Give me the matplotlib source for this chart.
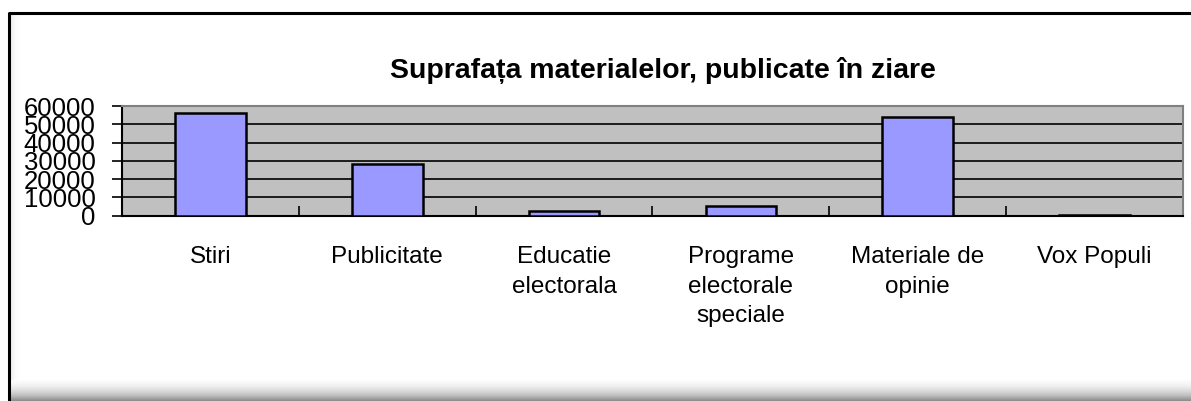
import numpy as np
import matplotlib.pyplot as plt

categories = ["Stiri", "Publicitate", "Educatie\nelectorala",
              "Programe\nelectorale\nspeciale", "Materiale de\nopinie", "Vox Populi"]
values = [56200, 28000, 2700, 5400, 54000, 600]
yticks = [0, 10000, 20000, 30000, 40000, 50000, 60000]
title = "Suprafața materialelor, publicate în ziare"

plt.rcParams['font.family'] = ['Liberation Sans', 'DejaVu Sans']

W, H = 1191, 401
fig = plt.figure(figsize=(W / 100, H / 100), dpi=100)

# frame and shadow behind everything
bg = fig.add_axes([0, 0, 1, 1], zorder=-5)
shade = np.linspace(0, 1, 64).reshape(-1, 1) ** 1.3
bg.imshow(shade, extent=[9, W, H, 380], cmap='Greys', vmin=-0.05, vmax=1.9,
          aspect='auto', interpolation='bilinear')
side = np.linspace(1, 0, 64).reshape(1, -1) ** 2
bg.imshow(side, extent=[10, 20, 380, 14], cmap='Greys', vmin=-0.05, vmax=6,
          aspect='auto', interpolation='bilinear')
bg.plot([9, 9, W], [H, 12.5, 12.5], color='black', lw=2.2, solid_capstyle='butt')
bg.set_xlim(0, W)
bg.set_ylim(H, 0)
bg.axis('off')

ax = fig.add_axes([122 / W, 1 - 215.6 / H, (1183 - 122) / W, (215.6 - 106) / H])
ax.set_facecolor('#C0C0C0')
x = np.arange(len(categories))
ax.bar(x, values, width=0.4, color='#9999FF', edgecolor='black', linewidth=1.8, zorder=3)

ax.set_xlim(-0.5, len(categories) - 0.5)
ax.set_ylim(0, 60000)
ax.set_yticks(yticks)
ax.set_yticklabels([str(v) for v in yticks], fontsize=18.5)
ax.yaxis.grid(True, color='black', lw=1.2, zorder=1)
ax.set_axisbelow(True)

ax.set_xticks(x)
ax.set_xticklabels(categories, fontsize=17.5, linespacing=1.45)
ax.set_xticks(np.arange(0.5, len(categories) - 0.5 + 0.01, 1.0), minor=True)
ax.tick_params(axis='x', which='major', length=0, pad=22)
ax.tick_params(axis='x', which='minor', direction='in', length=7, width=1.2)
ax.tick_params(axis='y', direction='out', length=7, width=1.2, pad=12)

for s in ['left', 'bottom']:
    ax.spines[s].set_color('black')
    ax.spines[s].set_linewidth(1.5)
for s in ['top', 'right']:
    ax.spines[s].set_color('#808080')
    ax.spines[s].set_linewidth(1.5)

fig.text(663 / W, 1 - 70 / H, title, ha='center', va='center',
         fontsize=20.5, fontweight='bold')

fig.savefig('out.png', dpi=100)
